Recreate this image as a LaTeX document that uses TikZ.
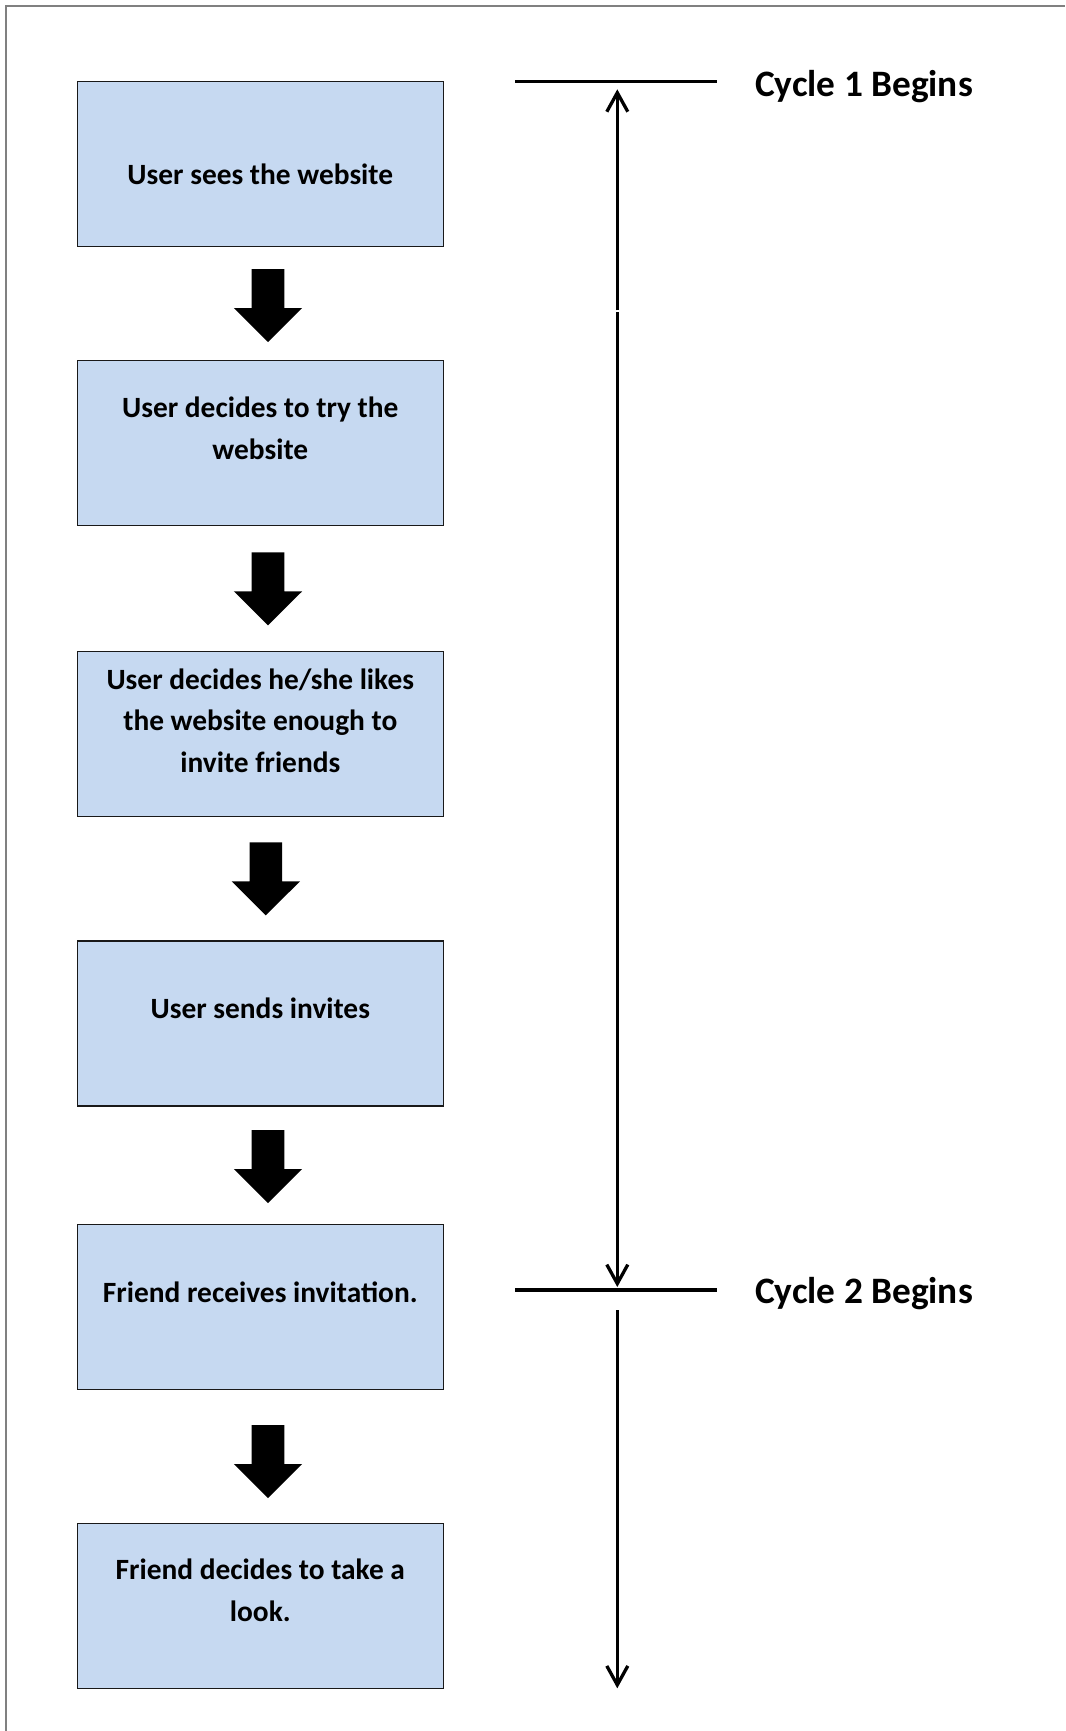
\documentclass[tikz,border=0pt]{standalone}
\usepackage{fontspec}
\setmainfont{Carlito}
\usetikzlibrary{arrows.meta}
\definecolor{boxfill}{HTML}{C6D9F1}
\definecolor{pageframe}{HTML}{808080}
\begin{document}
\begin{tikzpicture}[x=1pt,y=-1pt,
  stepbox/.style={draw=black!90, line width=1.4pt, fill=boxfill, minimum width=366pt, minimum height=165pt, inner sep=0pt},
  boxtext/.style={font=\bfseries\fontsize{29.4}{41.5}\selectfont, align=center, inner sep=0pt},
  cycletext/.style={font=\bfseries\fontsize{37.3}{42}\selectfont, anchor=base west, inner sep=0pt},
  marker/.style={line width=3.3pt},
  timeline/.style={line width=3.3pt, -{Straight Barb[length=19pt,width=21pt]}},
  pics/blockarrow/.style={code={\fill (-16.3,0) -- (16.3,0) -- (16.3,39) -- (34.2,39) -- (0,73) -- (-34.2,39) -- (-16.3,39) -- cycle;}}
]
\useasboundingbox (0,0) rectangle (1065,1731);
\draw[pageframe, line width=2pt] (5.7,1731) -- (5.7,5.7) -- (1065,5.7);

% boxes
\node[stepbox] (b1) at (260.3,164.2) {};
\node[stepbox] (b2) at (260.3,442.8) {};
\node[stepbox] (b3) at (260.3,733.7) {};
\node[stepbox] (b4) at (260.3,1023.4) {};
\node[stepbox] (b5) at (260.3,1306.9) {};
\node[stepbox] (b6) at (260.3,1605.9) {};

\node[boxtext] (t1) at (260.3,174.4) {User sees the website};
\node[boxtext] (t2) at (260.3,428.2) {User decides to try the\\website};
\node[boxtext] (t3) at (260.3,720.6) {User decides he/she likes\\the website enough to\\invite friends};
\node[boxtext] (t4) at (260.3,1008.7) {User sends invites};
\node[boxtext] (t5) at (260.3,1292.3) {Friend receives invitation.};
\node[boxtext] (t6) at (260.3,1590.3) {Friend decides to take a\\look.};

% block arrows
\pic at (268,269) {blockarrow};
\pic at (268,552.3) {blockarrow};
\pic at (265.8,842.3) {blockarrow};
\pic at (268,1130) {blockarrow};
\pic at (268,1425) {blockarrow};

% cycle markers
\coordinate (h1a) at (515,81.7);
\coordinate (h1b) at (717,81.7);
\coordinate (h2a) at (515,1290);
\coordinate (h2b) at (717,1290);
\draw[marker] (h1a) -- (h1b);
\draw[marker] (h2a) -- (h2b);
\node[cycletext] (cyc1) at (755,96.7) {Cycle 1 Begins};
\node[cycletext] (cyc2) at (755,1303) {Cycle 2 Begins};

% timeline
\coordinate (up) at (617.3,89.3);
\coordinate (brk1) at (617.3,310.3);
\coordinate (brk2) at (617.3,312);
\coordinate (c2tip) at (617.3,1287);
\coordinate (s2) at (617.3,1310);
\coordinate (fin) at (617.3,1688.3);
\draw[timeline] (brk1) -- (up);
\draw[timeline] (brk2) -- (c2tip);
\draw[timeline] (s2) -- (fin);
\end{tikzpicture}
\end{document}
